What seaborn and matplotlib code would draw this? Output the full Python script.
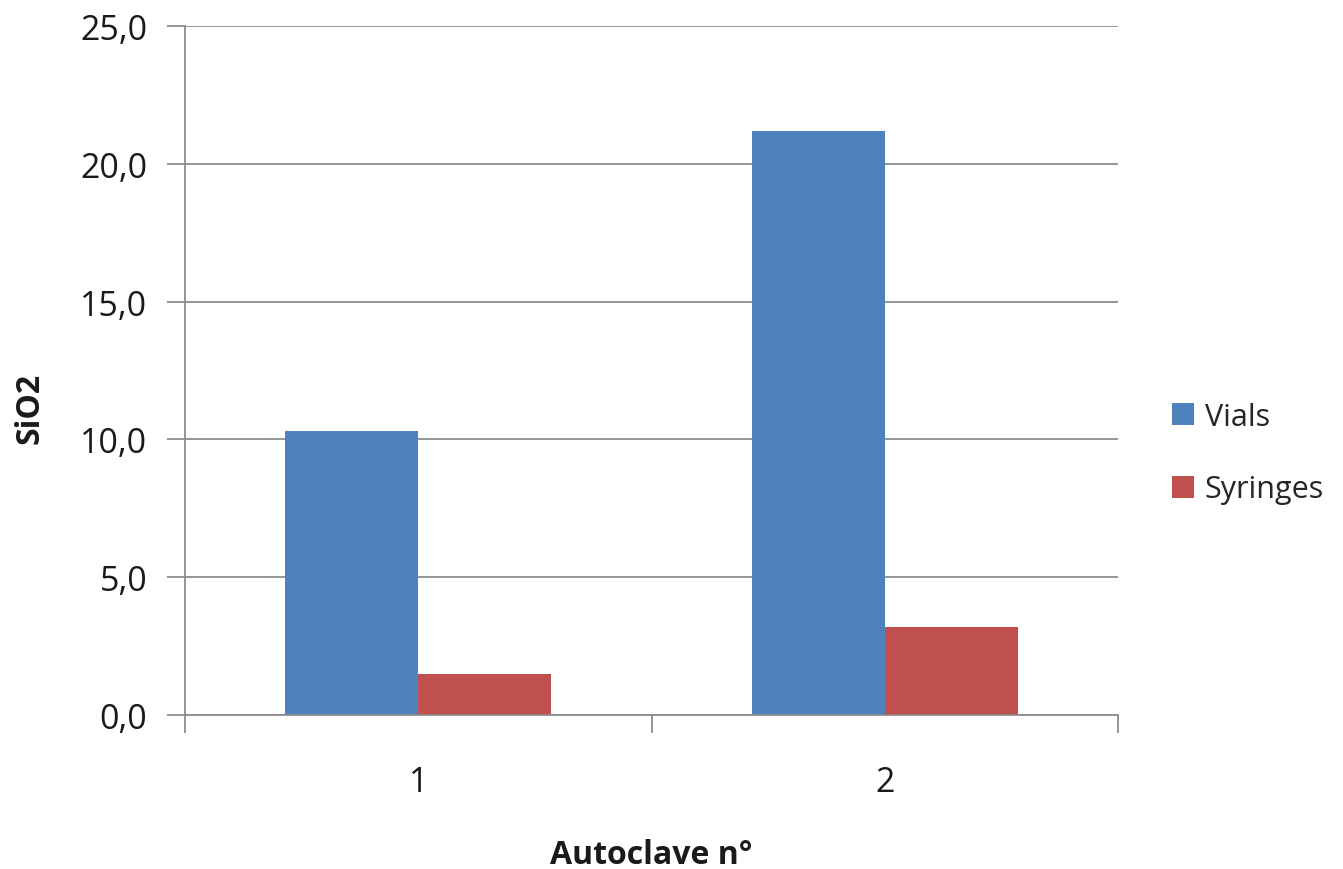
import matplotlib
matplotlib.use("Agg")
import matplotlib.pyplot as plt
import seaborn as sns
import pandas as pd
from matplotlib.patches import Patch

categories = ["1", "2"]
series_names = ["Vials", "Syringes"]
vials = [10.3, 21.2]
syringes = [1.5, 3.2]
y_ticks = [0, 5, 10, 15, 20, 25]
colors = ["#4F81BD", "#C0504D"]

df = pd.DataFrame({
    "Autoclave": categories * 2,
    "Serie": [series_names[0]] * 2 + [series_names[1]] * 2,
    "SiO2": vials + syringes,
})

sns.set_theme(style="white")
plt.rcParams["font.family"] = ["Open Sans", "DejaVu Sans"]

fig = plt.figure(figsize=(13.43, 8.70), dpi=100)
ax = fig.add_axes([185/1343, 1-716/870, (1118-185)/1343, (716-27)/870])

sns.barplot(data=df, x="Autoclave", y="SiO2", hue="Serie", palette=colors,
            width=0.57, ax=ax, legend=False, saturation=1, linewidth=0)

grid_c = "#8C8C8C"
ax.set_ylim(0, 25)
ax.set_xlim(-0.5, 1.5)
ax.set_yticks(y_ticks)
ax.set_yticklabels([f"{v:.1f}".replace(".", ",") for v in y_ticks], fontsize=24.5, color="#1a1a1a")
ax.yaxis.grid(True, color=grid_c, linewidth=1.3)
ax.set_axisbelow(True)
for s in ["top", "right"]:
    ax.spines[s].set_visible(False)
for s in ["left", "bottom"]:
    ax.spines[s].set_color(grid_c)
    ax.spines[s].set_linewidth(1.3)
ax.tick_params(axis="y", length=13, width=1.3, color=grid_c, pad=14, left=True)
ax.set_xticks([0, 1])
ax.set_xticklabels(categories, fontsize=24.5, color="#1a1a1a")
ax.set_xticks([-0.5, 0.5, 1.5], minor=True)
ax.tick_params(axis="x", which="minor", length=13, width=1.3, color=grid_c, bottom=True)
for lbl in ax.get_xticklabels():
    lbl.set_va("center")
ax.tick_params(axis="x", which="major", length=0, pad=48)

ax.set_ylabel("SiO2", fontsize=23, fontweight="bold", color="#1a1a1a", va="center")
ax.yaxis.set_label_coords((30 - 185) / 933, (716 - 408) / 689)
ax.set_xlabel("Autoclave n°", fontsize=23, fontweight="bold", color="#1a1a1a", va="center")
ax.xaxis.set_label_coords(0.5, (716 - 856) / 689)

handles = [Patch(facecolor=c, edgecolor="none") for c in colors]
fig.legend(handles, series_names, loc="center left", bbox_to_anchor=(1172/1343, 1-454/870),
           frameon=False, fontsize=22, handlelength=0.72, handleheight=0.72,
           handletextpad=0.35, labelspacing=1.4, borderpad=0, borderaxespad=0)

fig.savefig("out.png", dpi=100)
